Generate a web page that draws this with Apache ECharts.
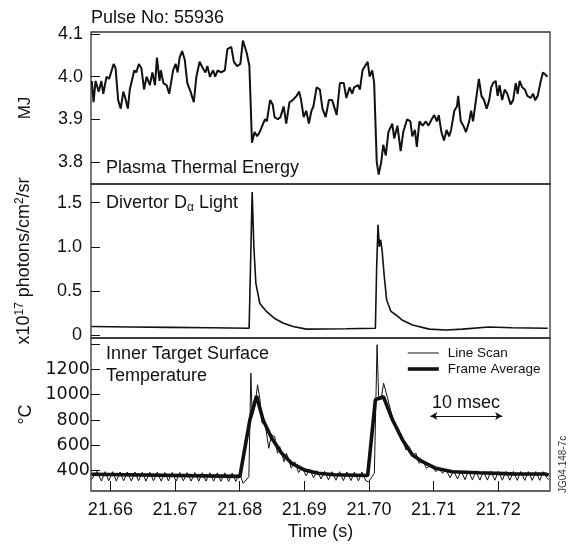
<!DOCTYPE html>
<html>
<head>
<meta charset="utf-8">
<script src="https://cdn.jsdelivr.net/npm/echarts@6/dist/echarts.min.js"></script>
<style>
  html, body { margin: 0; padding: 0; background: #fff; }
  #chart { width: 577px; height: 549px; }
</style>
</head>
<body>
<div id="chart"></div>
<script>
// Pulse No 55936, three stacked traces against time (s)

// Plasma thermal energy (MJ)
const energyTime = [21.65712, 21.6574, 21.6577, 21.6582, 21.6586, 21.6589, 21.6594, 21.6598, 21.6605, 21.6608,
  21.6612, 21.6616, 21.6620, 21.6623, 21.6627, 21.6630, 21.6637, 21.6640, 21.6644, 21.6648,
  21.6652, 21.6656, 21.6661, 21.6665, 21.6669, 21.6672, 21.6676, 21.6678, 21.6682, 21.6687,
  21.6691, 21.6697, 21.6701, 21.6704, 21.6707, 21.6711, 21.6715, 21.6719, 21.6724, 21.6729,
  21.6733, 21.6738, 21.6743, 21.6747, 21.6750, 21.6754, 21.6759, 21.6762, 21.6766, 21.6771,
  21.6777, 21.6781, 21.6787, 21.6791, 21.6796, 21.6801, 21.6805, 21.6811, 21.6815, 21.6819,
  21.6823, 21.6827, 21.6831, 21.6835, 21.6839, 21.6842, 21.6847, 21.6851, 21.6854, 21.6859,
  21.6863, 21.6868, 21.6872, 21.6877, 21.6882, 21.6888, 21.6892, 21.6895, 21.6899, 21.6903,
  21.6907, 21.6911, 21.6914, 21.6919, 21.6924, 21.6928, 21.6933, 21.6938, 21.6943, 21.6947,
  21.6950, 21.6955, 21.6961, 21.6965, 21.6970, 21.6974, 21.6977, 21.6983, 21.6986, 21.6990,
  21.6994, 21.6998, 21.7001, 21.7005, 21.7008, 21.7012, 21.7015, 21.7019, 21.7022, 21.7026,
  21.7030, 21.7036, 21.7039, 21.7044, 21.7049, 21.7053, 21.7059, 21.7064, 21.7067, 21.7071,
  21.7074, 21.7078, 21.7083, 21.7088, 21.7092, 21.7097, 21.7101, 21.7105, 21.7108, 21.7112,
  21.7116, 21.7120, 21.7124, 21.7127, 21.7132, 21.7136, 21.7138, 21.7142, 21.7146, 21.7150,
  21.7155, 21.7158, 21.7161, 21.7165, 21.7170, 21.7174, 21.7178, 21.7182, 21.7186, 21.7189,
  21.7192, 21.7196, 21.7199, 21.7202, 21.7206, 21.7210, 21.7214, 21.7219, 21.7223, 21.7227,
  21.7230, 21.7233, 21.7237, 21.7241, 21.7245, 21.7250, 21.7254, 21.7257, 21.7261, 21.7265,
  21.7269, 21.7273, 21.7276];
const energyMJ = [3.99, 3.94, 3.99, 3.965, 3.99, 3.96, 4.0, 3.995, 4.03, 4.02,
  3.945, 3.925, 3.965, 3.95, 3.925, 3.97, 4.015, 4.01, 4.03, 4.02,
  3.97, 4.0, 3.98, 4.01, 3.98, 4.045, 3.99, 4.015, 3.985, 3.98,
  3.96, 4.015, 4.03, 4.01, 4.045, 4.06, 4.04, 3.985, 3.965, 3.94,
  4.0, 4.035, 4.02, 4.01, 4.025, 4.0, 4.015, 4.0, 4.015, 4.01,
  4.015, 4.065, 4.07, 4.035, 4.025, 4.03, 4.085, 4.055, 4.025, 3.845,
  3.87, 3.86, 3.87, 3.885, 3.9, 3.895, 3.945, 3.935, 3.905, 3.9,
  3.905, 3.93, 3.89, 3.94, 3.945, 3.955, 3.965, 3.945, 3.905, 3.92,
  3.89, 3.92, 3.93, 3.975, 3.97, 3.925, 3.905, 3.945, 3.945, 3.925,
  3.91, 3.985, 3.985, 3.95, 3.975, 3.96, 3.975, 3.98, 3.97, 4.015,
  4.025, 4.035, 4.0, 4.015, 3.985, 3.8, 3.77, 3.8, 3.84, 3.815,
  3.87, 3.89, 3.855, 3.885, 3.825, 3.87, 3.9, 3.895, 3.86, 3.875,
  3.835, 3.895, 3.885, 3.895, 3.885, 3.9, 3.91, 3.895, 3.91, 3.87,
  3.85, 3.875, 3.86, 3.875, 3.92, 3.93, 3.955, 3.895, 3.885, 3.87,
  3.895, 3.92, 3.895, 3.94, 3.995, 3.955, 3.945, 3.925, 3.945, 3.975,
  3.985, 3.99, 3.955, 3.98, 3.945, 3.97, 3.96, 3.935, 3.945, 3.985,
  3.96, 3.99, 3.975, 3.97, 3.955, 3.95, 3.96, 3.945, 3.955, 3.985,
  4.01, 4.005, 4.0];

// Divertor D-alpha light (x10^17 photons/cm2/sr)
const dalphaTime = [21.65707, 21.66308, 21.66924, 21.67541, 21.68146, 21.68193, 21.68219, 21.68250, 21.68311, 21.68414,
  21.68542, 21.68670, 21.68824, 21.69031, 21.69647, 21.70099, 21.70119, 21.70140, 21.70160, 21.70180,
  21.70202, 21.70237, 21.70273, 21.70340, 21.70418, 21.70519, 21.70673, 21.70931, 21.71188, 21.71444,
  21.71855, 21.72210, 21.72764];
const dalphaValue = [0.1, 0.095, 0.09, 0.085, 0.08, 1.62, 1.0, 0.59, 0.36, 0.27,
  0.19, 0.14, 0.1, 0.07, 0.075, 0.08, 0.78, 1.25, 1.0, 1.08,
  0.965, 0.66, 0.4, 0.27, 0.23, 0.17, 0.117, 0.07, 0.06, 0.07,
  0.095, 0.085, 0.08];

// Inner target surface temperature (C), line scan
const scanTime = [21.65707, 21.65795, 21.65861, 21.65918, 21.65974, 21.66035, 21.66092, 21.66149, 21.66205, 21.66262,
  21.66324, 21.66381, 21.66436, 21.66493, 21.66550, 21.66609, 21.66667, 21.66724, 21.66786, 21.66843,
  21.66898, 21.66955, 21.67017, 21.67074, 21.67129, 21.67186, 21.67248, 21.67307, 21.67367, 21.67422,
  21.67479, 21.67538, 21.67598, 21.67653, 21.67710, 21.67769, 21.67829, 21.67884, 21.67941, 21.67998,
  21.68054, 21.68142, 21.68173, 21.68193, 21.68234, 21.68276, 21.68311, 21.68347, 21.68388, 21.68450,
  21.68492, 21.68542, 21.68584, 21.68619, 21.68686, 21.68723, 21.68750, 21.68797, 21.68851, 21.68912,
  21.68966, 21.69028, 21.69082, 21.69143, 21.69197, 21.69259, 21.69313, 21.69374, 21.69428, 21.69490,
  21.69544, 21.69605, 21.69659, 21.69721, 21.69775, 21.69837, 21.69891, 21.69952, 21.69995, 21.70083,
  21.70125, 21.70149, 21.70186, 21.70226, 21.70288, 21.70340, 21.70391, 21.70438, 21.70484, 21.70519,
  21.70572, 21.70622, 21.70673, 21.70726, 21.70777, 21.70827, 21.70889, 21.70957, 21.71034, 21.71085,
  21.71135, 21.71193, 21.71254, 21.71308, 21.71370, 21.71424, 21.71485, 21.71539, 21.71601, 21.71655,
  21.71716, 21.71770, 21.71832, 21.71886, 21.71948, 21.72001, 21.72063, 21.72117, 21.72179, 21.72233,
  21.72294, 21.72348, 21.72410, 21.72464, 21.72525, 21.72579, 21.72641, 21.72695, 21.72749, 21.72780];
const scanTemp = [330, 395, 318, 392, 320, 392, 318, 390, 320, 390,
  318, 390, 320, 388, 318, 388, 320, 388, 318, 386,
  320, 386, 318, 386, 320, 385, 318, 385, 318, 384,
  318, 384, 318, 383, 316, 383, 316, 382, 316, 380,
  300, 353, 1170, 827, 906, 1078, 972, 775, 787, 577,
  682, 669, 538, 590, 471, 538, 500, 420, 470, 385,
  430, 360, 410, 345, 400, 335, 395, 328, 392, 325,
  392, 322, 390, 322, 390, 320, 390, 320, 313, 380,
  1394, 985, 959, 1090, 972, 866, 760, 735, 690, 643,
  564, 590, 524, 538, 458, 484, 419, 445, 392, 419,
  380, 405, 345, 400, 335, 398, 330, 398, 328, 396,
  326, 396, 326, 395, 325, 395, 325, 394, 325, 394,
  324, 394, 324, 393, 324, 393, 324, 392, 345, 330];

// Inner target surface temperature (C), frame average
const frameTime = [21.65707, 21.68003, 21.68157, 21.68260, 21.68362, 21.68492, 21.68646, 21.68800, 21.69005, 21.69210,
  21.69467, 21.69980, 21.70099, 21.70222, 21.70365, 21.70519, 21.70673, 21.70827, 21.71034, 21.71290,
  21.71701, 21.72214, 21.72729, 21.72780];
const frameTemp = [372, 355, 800, 990, 800, 660, 540, 460, 405, 380,
  368, 362, 960, 985, 800, 643, 524, 471, 419, 392,
  384, 375, 374, 365];

const timeMin = 21.657;
const timeMax = 21.728;

const zip = (xs, ys) => xs.map((x, i) => [x, ys[i]]);

const FONT = "'Liberation Sans', Arial, Helvetica, sans-serif";
const WIDE = "'DejaVu Sans', sans-serif";
const INK = '#111';

const chart = echarts.init(document.getElementById('chart'));

const yLabel = {color: INK, fontSize: 18, fontFamily: FONT, margin: 8, showMinLabel: false, showMaxLabel: false};

const baseY = {
  type: 'value',
  axisLine: {show: false},
  splitLine: {show: false},
  axisTick: {show: true, inside: true, length: 9, lineStyle: {color: INK, width: 1}},
  nameLocation: 'middle',
  nameRotate: 90,
  nameTextStyle: {color: INK, fontSize: 18, fontFamily: FONT}
};

const baseX = {
  type: 'value',
  min: timeMin,
  max: timeMax,
  splitNumber: 7,
  splitLine: {show: false},
  axisLine: {show: false}
};

const option = {
  animation: false,
  backgroundColor: '#fff',
  title: {
    text: 'Pulse No: 55936',
    left: 86,
    top: 4,
    textStyle: {color: INK, fontSize: 18, fontWeight: 'normal', fontFamily: FONT}
  },
  legend: {
    data: ['Line Scan', 'Frame Average'],
    orient: 'vertical',
    left: 406,
    top: 346,
    padding: 0,
    itemWidth: 31,
    itemHeight: 14,
    itemGap: 2,
    itemStyle: {opacity: 0},
    lineStyle: {width: 'inherit'},
    textStyle: {color: INK, fontSize: 13.5, fontFamily: FONT, padding: [0, 0, 0, 4]},
    selectedMode: false
  },
  grid: [
    {left: 91, right: 27, top: 32, height: 152, show: true, borderColor: '#333', borderWidth: 1.3},
    {left: 91, right: 27, top: 184, height: 154, show: true, borderColor: '#333', borderWidth: 1.3},
    {left: 91, right: 27, top: 338, height: 153, show: true, borderColor: '#333', borderWidth: 1.3}
  ],
  xAxis: [
    Object.assign({}, baseX, {gridIndex: 0, axisTick: {show: false}, axisLabel: {show: false}}),
    Object.assign({}, baseX, {gridIndex: 1, axisTick: {show: false}, axisLabel: {show: false}}),
    Object.assign({}, baseX, {
      gridIndex: 2,
      name: 'Time (s)',
      nameLocation: 'middle',
      nameGap: 32,
      nameTextStyle: {color: INK, fontSize: 18, fontFamily: FONT},
      axisTick: {show: true, inside: true, length: 10, lineStyle: {color: INK, width: 1}},
      axisLabel: {
        color: INK, fontSize: 18, fontFamily: FONT, margin: 10,
        showMinLabel: false, showMaxLabel: false,
        formatter: v => v.toFixed(2)
      }
    })
  ],
  yAxis: [
    Object.assign({}, baseY, {
      gridIndex: 0, min: 3.748, max: 4.105, splitNumber: 4,
      name: 'MJ', nameGap: 57,
      nameTextStyle: {color: INK, fontSize: 17, fontFamily: FONT},
      axisLabel: Object.assign({}, yLabel, {formatter: v => v.toFixed(1)})
    }),
    Object.assign({}, baseY, {
      gridIndex: 1, min: -0.03, max: 1.71, splitNumber: 4,
      name: 'x10{sup|17} photons/cm{sup|2}/sr', nameGap: 56,
      nameTextStyle: {
        color: INK, fontSize: 18, fontFamily: FONT,
        rich: {sup: {fontSize: 12, fontFamily: FONT, color: INK, verticalAlign: 'top', padding: [0, 0, 9, 0]}}
      },
      axisLabel: Object.assign({}, yLabel, {margin: 9, formatter: v => (v === 0 ? '0' : v.toFixed(1))})
    }),
    Object.assign({}, baseY, {
      gridIndex: 2, min: 240, max: 1447, splitNumber: 6,
      name: '°C', nameGap: 56,
      axisLabel: Object.assign({}, yLabel, {
        fontFamily: WIDE, fontSize: 17.5, margin: 1,
        formatter: v => (v > 1300 ? '' : String(v))
      })
    })
  ],
  graphic: [
    {type: 'text', left: 106, top: 159, style: {text: 'Plasma Thermal Energy', fill: INK, font: '18px ' + FONT}},
    {
      type: 'text', left: 106, top: 194,
      style: {
        text: 'Divertor D{sub|α} Light', fill: INK, font: '18px ' + FONT,
        rich: {sub: {fontSize: 12, fontFamily: FONT, fill: INK, padding: [9, 0, 0, 0]}}
      }
    },
    {type: 'text', left: 106, top: 345, style: {text: 'Inner Target Surface', fill: INK, font: '18px ' + FONT}},
    {type: 'text', left: 106, top: 367, style: {text: 'Temperature', fill: INK, font: '18px ' + FONT}},
    {type: 'text', left: 432, top: 394, style: {text: '10 msec', fill: INK, font: '18px ' + FONT}},
    {
      type: 'text', x: 558, y: 493, rotation: Math.PI / 2,
      style: {text: 'JG04.148-7c', fill: '#333', font: '10px ' + FONT}
    }
  ],
  series: [
    {
      name: 'Plasma Thermal Energy', type: 'line', xAxisIndex: 0, yAxisIndex: 0,
      data: zip(energyTime, energyMJ), symbol: 'none',
      lineStyle: {color: INK, width: 2}
    },
    {
      name: 'Divertor D-alpha', type: 'line', xAxisIndex: 1, yAxisIndex: 1,
      data: zip(dalphaTime, dalphaValue), symbol: 'none',
      lineStyle: {color: INK, width: 1.6}
    },
    {
      name: 'Line Scan', type: 'line', xAxisIndex: 2, yAxisIndex: 2,
      data: zip(scanTime, scanTemp), symbol: 'none',
      lineStyle: {color: INK, width: 1}, itemStyle: {color: INK}
    },
    {
      name: 'Frame Average', type: 'line', xAxisIndex: 2, yAxisIndex: 2,
      data: zip(frameTime, frameTemp), symbol: 'none',
      lineStyle: {color: INK, width: 3.6}, itemStyle: {color: INK},
      markLine: {
        silent: true,
        symbol: ['arrow', 'arrow'],
        symbolSize: [6, 7],
        label: {show: false},
        lineStyle: {color: INK, width: 1, type: 'solid'},
        data: [[{coord: [21.7095, 832]}, {coord: [21.7206, 832]}]]
      }
    }
  ]
};

chart.setOption(option);
</script>
</body>
</html>
